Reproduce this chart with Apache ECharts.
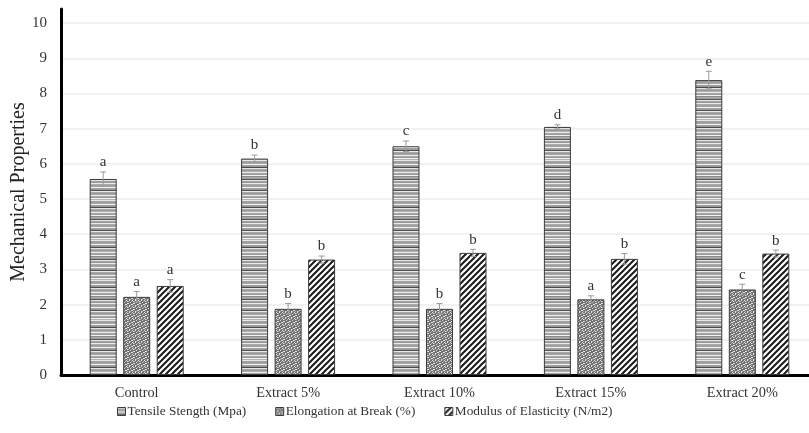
<!DOCTYPE html>
<html>
<head>
<meta charset="utf-8">
<script src="https://cdn.jsdelivr.net/npm/echarts@6/dist/echarts.min.js"></script>
<style>
  html, body { margin: 0; padding: 0; background: #fff; }
  #chart { width: 809px; height: 433px; }
</style>
</head>
<body>
<div id="chart"></div>
<script>
// Treatments along the x axis
const categories = ['Control', 'Extract 5%', 'Extract 10%', 'Extract 15%', 'Extract 20%'];

// Measured means
const tensileStrength = [5.57, 6.15, 6.50, 7.05, 8.38];
const elongationAtBreak = [2.22, 1.88, 1.88, 2.15, 2.43];
const modulusOfElasticity = [2.53, 3.28, 3.47, 3.30, 3.45];

// Standard deviations (error whiskers)
const tensileError = [0.20, 0.10, 0.15, 0.06, 0.25];
const elongationError = [0.15, 0.15, 0.15, 0.10, 0.15];
const modulusError = [0.18, 0.10, 0.10, 0.15, 0.10];

// Significance letters
const tensileLetters = ['a', 'b', 'c', 'd', 'e'];
const elongationLetters = ['a', 'b', 'b', 'a', 'c'];
const modulusLetters = ['a', 'b', 'b', 'b', 'b'];

const seriesNames = ['Tensile Stength (Mpa)', 'Elongation at Break (%)', 'Modulus of Elasticity (N/m2)'];
const yTicks = [0, 1, 2, 3, 4, 5, 6, 7, 8, 9, 10];

const FONT = '"Liberation Serif", "DejaVu Serif", serif';
const BAR_W = 27;
const GAP_PX = 6.5;

// --- fill patterns -------------------------------------------------------
function makeCanvas(w, h) {
  const c = document.createElement('canvas');
  c.width = w; c.height = h;
  return c;
}

// horizontal stripes in mixed greys
function stripePattern() {
  const rows = ['#e8e8e8', '#a2a2a2', '#9c9c9c', '#a8a8a8', '#f0f0f0', '#a0a0a0', '#969696',
                '#4a4a4a', '#e4e4e4', '#a6a6a6', '#9a9a9a', '#b0b0b0', '#eeeeee', '#a4a4a4',
                '#9e9e9e', '#f2f2f2', '#8c8c8c', '#a8a8a8', '#a0a0a0', '#555555', '#e2e2e2',
                '#a2a2a2', '#989898', '#ececec', '#acacac', '#9e9e9e', '#a4a4a4', '#f0f0f0',
                '#a0a0a0', '#9a9a9a', '#505050', '#eaeaea', '#a8a8a8', '#9a9a9a', '#a6a6a6',
                '#ededed', '#acacac', '#969696', '#f4f4f4', '#b0b0b0'];
  const c = makeCanvas(4, rows.length);
  const ctx = c.getContext('2d');
  rows.forEach((col, i) => { ctx.fillStyle = col; ctx.fillRect(0, i, 4, 1); });
  return c;
}

// speckled texture
function speckPattern() {
  const c = makeCanvas(6, 6);
  const ctx = c.getContext('2d');
  ctx.fillStyle = '#707070';
  ctx.fillRect(0, 0, 6, 6);
  ctx.fillStyle = '#e6e6e6';
  [[0, 0], [1, 1], [3, 0], [4, 2], [2, 3], [0, 4], [5, 4], [3, 5], [1, 3]].forEach(p => ctx.fillRect(p[0], p[1], 1, 1));
  ctx.fillStyle = '#aaaaaa';
  [[2, 1], [5, 1], [4, 5], [1, 5]].forEach(p => ctx.fillRect(p[0], p[1], 1, 1));
  return c;
}

// diagonal hatching ////
function hatchPattern() {
  const s = 6;
  const c = makeCanvas(s, s);
  const ctx = c.getContext('2d');
  ctx.fillStyle = '#ffffff';
  ctx.fillRect(0, 0, s, s);
  ctx.strokeStyle = '#1a1a1a';
  ctx.lineWidth = 2;
  ctx.beginPath();
  ctx.moveTo(-1, s + 1); ctx.lineTo(s + 1, -1);
  ctx.moveTo(-1, 1); ctx.lineTo(1, -1);
  ctx.moveTo(s - 1, s + 1); ctx.lineTo(s + 1, s - 1);
  ctx.stroke();
  return c;
}

const fills = [
  { image: stripePattern(), repeat: 'repeat' },
  { image: speckPattern(), repeat: 'repeat' },
  { image: hatchPattern(), repeat: 'repeat' }
];

const values = [tensileStrength, elongationAtBreak, modulusOfElasticity];
const errors = [tensileError, elongationError, modulusError];
const letters = [tensileLetters, elongationLetters, modulusLetters];

// --- series ------------------------------------------------------------------
const barSeries = values.map((vals, k) => ({
  name: seriesNames[k],
  type: 'bar',
  data: vals,
  barWidth: BAR_W,
  barGap: (GAP_PX / BAR_W * 100).toFixed(1) + '%',
  itemStyle: { color: fills[k], borderColor: '#3c3c3c', borderWidth: 1 },
  emphasis: { disabled: true },
  z: 2
}));

// error whiskers and letters drawn on top of each bar
const errorSeries = values.map((vals, k) => ({
  name: seriesNames[k] + ' error',
  type: 'custom',
  data: vals.map((v, i) => [i, v, errors[k][i]]),
  z: 5,
  silent: true,
  renderItem: function (params, api) {
    const i = api.value(0);
    const v = api.value(1);
    const e = api.value(2);
    const offset = (k - 1) * (BAR_W + GAP_PX);
    const top = api.coord([i, v + e]);
    const bot = api.coord([i, v - e]);
    const x = top[0] + offset;
    return {
      type: 'group',
      children: [
        { type: 'line', shape: { x1: x, y1: top[1], x2: x, y2: bot[1] },
          style: { stroke: '#9a9a9a', lineWidth: 1 } },
        { type: 'line', shape: { x1: x - 3, y1: top[1], x2: x + 3, y2: top[1] },
          style: { stroke: '#9a9a9a', lineWidth: 1 } },
        { type: 'line', shape: { x1: x - 3, y1: bot[1], x2: x + 3, y2: bot[1] },
          style: { stroke: '#9a9a9a', lineWidth: 1 } },
        { type: 'text', x: x, y: top[1] - 2,
          style: { text: letters[k][i], fill: '#333', font: '15px ' + FONT,
                   align: 'center', verticalAlign: 'bottom' } }
      ]
    };
  }
}));

const chart = echarts.init(document.getElementById('chart'), null, { renderer: 'canvas' });
chart.setOption({
  backgroundColor: '#ffffff',
  animation: false,
  grid: { left: 61, top: 9, width: 757, height: 366, containLabel: false, outerBoundsMode: 'none' },
  legend: {
    data: seriesNames,
    top: 400,
    left: 112,
    itemWidth: 8,
    itemHeight: 8,
    itemGap: 29,
    icon: 'rect',
    textStyle: { fontFamily: FONT, fontSize: 13.3, color: '#333', padding: [0, 0, 0, -3] },
    itemStyle: { borderColor: '#3c3c3c', borderWidth: 1 }
  },
  xAxis: {
    type: 'category',
    data: categories,
    axisLine: { lineStyle: { color: '#000', width: 3 } },
    axisTick: { show: false },
    axisLabel: { fontFamily: FONT, fontSize: 14.3, color: '#333', margin: 11 }
  },
  yAxis: {
    type: 'value',
    min: 0,
    max: 10.4,
    interval: 1,
    name: 'Mechanical Properties',
    nameLocation: 'middle',
    nameGap: 32,
    nameMoveOverlap: false,
    nameTextStyle: { fontFamily: FONT, fontSize: 20, color: '#222' },
    axisLine: { show: true, lineStyle: { color: '#000', width: 3 } },
    axisTick: { show: false },
    axisLabel: {
      fontFamily: FONT, fontSize: 15, color: '#333', margin: 14,
      showMaxLabel: false,
      formatter: v => (yTicks.indexOf(v) >= 0 ? String(v) : '')
    },
    splitLine: { show: true, showMaxLine: false, lineStyle: { color: '#ececec', width: 1.5 } }
  },
  series: barSeries.concat(errorSeries)
});
</script>
</body>
</html>
